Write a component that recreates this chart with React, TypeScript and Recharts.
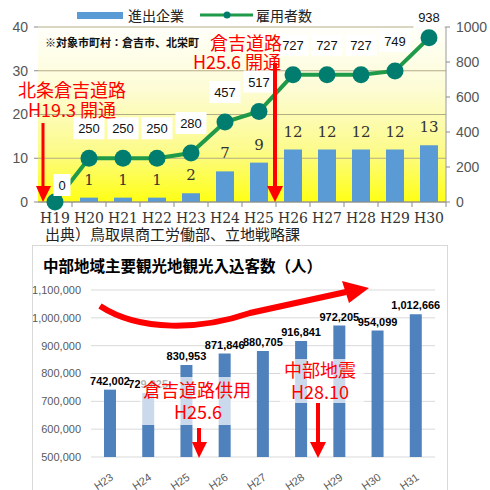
import React from 'react';
import { Bar, BarChart, CartesianGrid, ComposedChart, LabelList, Line, XAxis, YAxis } from 'recharts';

// top chart: companies & employees along the road
const roadYears = ['H19', 'H20', 'H21', 'H22', 'H23', 'H24', 'H25', 'H26', 'H27', 'H28', 'H29', 'H30'];
const companyCounts = [0, 1, 1, 1, 2, 7, 9, 12, 12, 12, 12, 13];
const employeeCounts = [0, 250, 250, 250, 280, 457, 517, 727, 727, 727, 749, 938];
const countTicks = [0, 10, 20, 30, 40];
const employeeTicks = [0, 200, 400, 600, 800, 1000];

// bottom chart: tourist visitors
const tourYears = ['H23', 'H24', 'H25', 'H26', 'H27', 'H28', 'H29', 'H30', 'H31'];
const visitorCounts = [742002, 729825, 830953, 871846, 880705, 916841, 972205, 954099, 1012666];
const visitorTicks = [500000, 600000, 700000, 800000, 900000, 1000000, 1100000];

const TOP_W = 490;
const TOP_H = 240;
const TOP_LEFT_AXIS = 38;
const TOP_RIGHT_AXIS = 44;
const TOP_BAND = (TOP_W - TOP_LEFT_AXIS - TOP_RIGHT_AXIS) / roadYears.length;

const BAR_BLUE = '#5b9bd5';
const LINE_GREEN = '#1f9a48';
const DOT_TEAL = '#007d6e';
const RED = '#ff0000';
const JP = '"Noto Sans CJK JP", "Noto Sans", sans-serif';

const topRows = roadYears.map((year, i) => ({
  year,
  companies: companyCounts[i],
  employees: employeeCounts[i],
}));

const tourRows = tourYears.map((year, i) => ({ year, visitors: visitorCounts[i] }));

function YearTick({ x, y, payload }: any) {
  const half = TOP_BAND / 2;
  return (
    <g>
      <line x1={x + half} y1={y - 8} x2={x + half} y2={y - 3} stroke="#8a8a8a" />
      <text x={x} y={y + 13} textAnchor="middle" fontFamily="DejaVu Serif" fontSize={14} fill="#333">
        {payload.value}
      </text>
    </g>
  );
}

function CompanyLabel({ x, y, width, value }: any) {
  if (!value) return null;
  return (
    <text x={x + width / 2} y={y - 13} textAnchor="middle" fontFamily="DejaVu Serif" fontSize={15} fill="#333">
      {value}
    </text>
  );
}

function EmployeeLabel({ x, y, value }: any) {
  const zero = value === 0;
  const cx = zero ? x + 7 : x;
  const cy = Math.max(zero ? y - 17 : y - 30, 17);
  const w = String(value).length * 7 + 10;
  return (
    <g>
      <rect x={cx - w / 2} y={cy - 11} width={w} height={22} fill="#fff" />
      <text x={cx} y={cy + 5} textAnchor="middle" fontFamily="Liberation Sans" fontSize={13} fill="#111">
        {value}
      </text>
    </g>
  );
}

function VisitorTick({ x, y, payload }: any) {
  const tx = x + 4;
  const ty = y + 14;
  return (
    <text
      x={tx}
      y={ty}
      transform={`rotate(-35, ${tx}, ${ty})`}
      textAnchor="end"
      fontFamily="Liberation Sans"
      fontSize={11}
      fill="#595959"
    >
      {payload.value}
    </text>
  );
}

function Overlay() {
  const redText = { fill: RED, fontFamily: JP, fontWeight: 400 } as const;
  return (
    <svg width={490} height={490} style={{ position: 'absolute', left: 0, top: 0, pointerEvents: 'none' }}>
      {/* legend of top chart */}
      <rect x={77} y={12} width={46} height={7} fill={BAR_BLUE} />
      <text x={128} y={21} fontFamily={JP} fontSize={14} fill="#222">進出企業</text>
      <line x1={200} y1={15} x2={253} y2={15} stroke={LINE_GREEN} strokeWidth={3} />
      <circle cx={227} cy={15} r={3.5} fill={DOT_TEAL} />
      <text x={256} y={21} fontFamily={JP} fontSize={14} fill="#222">雇用者数</text>

      <text x={45} y={47} fontFamily={JP} fontSize={11} fontWeight={700} fill="#111">※対象市町村：倉吉市、北栄町</text>
      <text x={45} y={240} fontFamily={JP} fontSize={15} fill="#222">出典）鳥取県商工労働部、立地戦略課</text>

      {/* road opening notes */}
      <text x={18} y={97} fontSize={18} {...redText}>北条倉吉道路</text>
      <text x={28} y={117} fontSize={18} {...redText}>H19.3 開通</text>
      <line x1={43} y1={123} x2={43} y2={188} stroke={RED} strokeWidth={3} />
      <polygon points="36,186 51,186 43,202" fill={RED} />

      <text x={210} y={50} fontSize={18} {...redText}>倉吉道路</text>
      <text x={193} y={69} fontSize={18} {...redText}>H25.6 開通</text>
      <line x1={275} y1={63} x2={275} y2={188} stroke={RED} strokeWidth={4} />
      <polygon points="267,186 283,186 275,202" fill={RED} />

      {/* bottom chart notes */}
      <path d="M100,306 C140,332 200,330 250,313 L346,292" stroke={RED} strokeWidth={6} fill="none" />
      <polygon points="342,281 349,303 369,288" fill={RED} />

      <rect x={140} y={377} width={116} height={48} fill="#fff" opacity={0.7} />
      <text x={197} y={397} textAnchor="middle" fontSize={18} {...redText}>倉吉道路供用</text>
      <text x={198} y={419} textAnchor="middle" fontSize={18} {...redText}>H25.6</text>
      <line x1={199} y1={428} x2={199} y2={444} stroke={RED} strokeWidth={4} />
      <polygon points="192,442 207,442 199,458" fill={RED} />

      <rect x={280} y={359} width={84} height={44} fill="#fff" opacity={0.7} />
      <text x={320} y={377} textAnchor="middle" fontSize={18} {...redText}>中部地震</text>
      <text x={320} y={399} textAnchor="middle" fontSize={18} {...redText}>H28.10</text>
      <line x1={318} y1={403} x2={318} y2={444} stroke={RED} strokeWidth={4} />
      <polygon points="310,442 326,442 318,458" fill={RED} />
    </svg>
  );
}

export default function App() {
  return (
    <div style={{ position: 'fixed', left: 0, top: 0, width: 490, height: 490, background: '#fff', overflow: 'hidden' }}>
      <div style={{ position: 'absolute', left: 0, top: 0 }}>
        <ComposedChart width={TOP_W} height={TOP_H} data={topRows} margin={{ top: 27, right: 0, bottom: 18, left: 0 }}>
          <defs>
            <linearGradient id="topBg" x1="0" y1="0" x2="0" y2="1">
              <stop offset="0%" stopColor="#fffffa" />
              <stop offset="35%" stopColor="#fdfcd6" />
              <stop offset="70%" stopColor="#fcfb8c" />
              <stop offset="100%" stopColor="#ffff14" />
            </linearGradient>
          </defs>
          <CartesianGrid yAxisId="left" vertical={false} stroke="#b3ad86" fill="url(#topBg)" fillOpacity={1} />
          <XAxis dataKey="year" height={20} axisLine={{ stroke: '#8a8a8a' }} tickLine={false} tick={<YearTick />} interval={0} />
          <YAxis
            yAxisId="left"
            width={TOP_LEFT_AXIS}
            domain={[0, 40]}
            ticks={countTicks}
            axisLine={false}
            tickSize={4}
            tickMargin={6}
            tickLine={{ stroke: '#8a8a8a' }}
            tick={{ fontSize: 14, fill: '#555', fontFamily: 'Liberation Sans' }}
          />
          <YAxis
            yAxisId="right"
            orientation="right"
            width={TOP_RIGHT_AXIS}
            domain={[0, 1000]}
            ticks={employeeTicks}
            axisLine={{ stroke: '#9a9a9a' }}
            tickSize={4}
            tickMargin={6}
            tickLine={{ stroke: '#8a8a8a' }}
            tick={{ fontSize: 14, fill: '#555', fontFamily: 'Liberation Sans' }}
          />
          <Bar yAxisId="left" dataKey="companies" fill={BAR_BLUE} barSize={18} isAnimationActive={false}>
            <LabelList dataKey="companies" content={<CompanyLabel />} />
          </Bar>
          <Line
            yAxisId="right"
            dataKey="employees"
            stroke={LINE_GREEN}
            strokeWidth={4}
            dot={{ r: 8.5, fill: DOT_TEAL, stroke: 'none' }}
            isAnimationActive={false}
          >
            <LabelList dataKey="employees" content={<EmployeeLabel />} />
          </Line>
        </ComposedChart>
      </div>

      <div
        style={{
          position: 'absolute',
          left: 32,
          top: 245,
          width: 416,
          height: 260,
          border: '1px solid #d9d9d9',
          boxSizing: 'border-box',
          background: '#fff',
        }}
      >
        <div
          style={{
            position: 'absolute',
            left: 10,
            top: 8,
            fontFamily: JP,
            fontSize: 15.5,
            fontWeight: 700,
            color: '#000',
            whiteSpace: 'nowrap',
          }}
        >
          中部地域主要観光地観光入込客数（人）
        </div>
        <BarChart width={414} height={258} data={tourRows} margin={{ top: 44, right: 12, bottom: 15, left: 0 }}>
          <CartesianGrid vertical={false} stroke="#d9d9d9" />
          <XAxis dataKey="year" height={32} axisLine={false} tickLine={false} tick={<VisitorTick />} interval={0} />
          <YAxis
            width={58}
            domain={[500000, 1100000]}
            ticks={visitorTicks}
            axisLine={false}
            tickLine={false}
            tickMargin={4}
            tickFormatter={(v: number) => v.toLocaleString('en-US')}
            tick={{ fontSize: 11, fill: '#595959', fontFamily: 'Liberation Sans' }}
          />
          <Bar dataKey="visitors" fill="#4f81bd" barSize={12} isAnimationActive={false}>
            <LabelList
              dataKey="visitors"
              position="top"
              offset={5}
              formatter={(v: any) => Number(v).toLocaleString('en-US')}
              style={{ fontSize: 11, fontWeight: 700, fill: '#000', fontFamily: 'Liberation Sans' }}
            />
          </Bar>
        </BarChart>
      </div>

      <Overlay />
    </div>
  );
}
